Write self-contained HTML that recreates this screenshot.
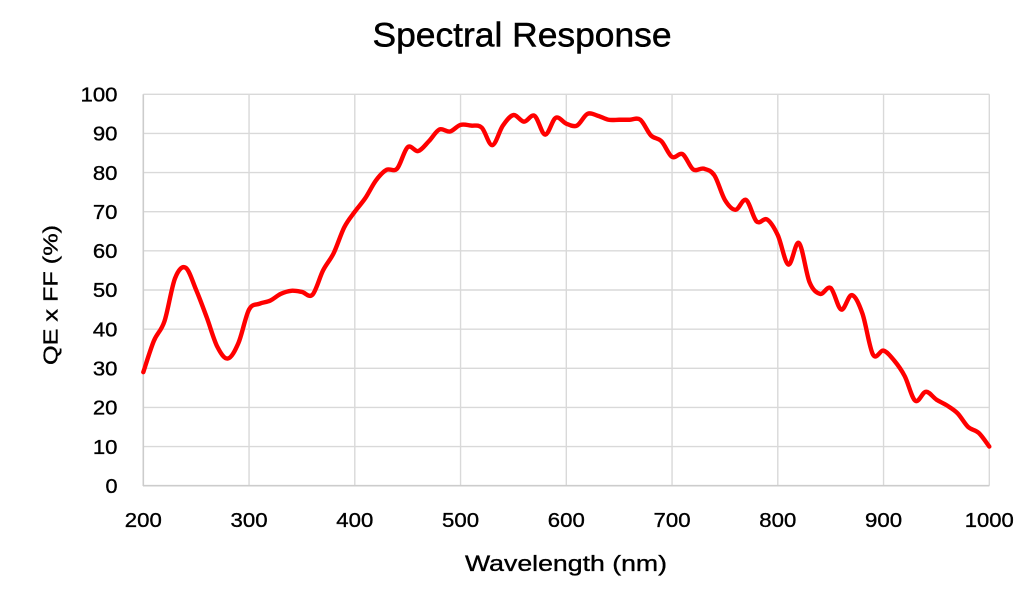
<!DOCTYPE html>
<html>
<head>
<meta charset="utf-8">
<style>
  html,body{margin:0;padding:0;background:#fff;}
  svg{display:block;}
  text{font-family:"Liberation Sans", Arial, sans-serif; fill:#000; stroke:#000; stroke-width:0.35px;}
</style>
</head>
<body>
<svg id="chart" width="1036" height="593" viewBox="0 0 1036 593" xmlns="http://www.w3.org/2000/svg">
  <rect width="1036" height="593" fill="#fff"/>
  <!-- title -->
  <text x="522" y="46.7" font-size="34.5" text-anchor="middle" textLength="299" lengthAdjust="spacingAndGlyphs" style="stroke-width:0.5px">Spectral Response</text>

  <!-- gridlines -->
  <g stroke="#d9d9d9" stroke-width="1.4" fill="none">
    <line x1="143.3" y1="94.3" x2="989.3" y2="94.3"/>
    <line x1="143.3" y1="133.44" x2="989.3" y2="133.44"/>
    <line x1="143.3" y1="172.58" x2="989.3" y2="172.58"/>
    <line x1="143.3" y1="211.72" x2="989.3" y2="211.72"/>
    <line x1="143.3" y1="250.86" x2="989.3" y2="250.86"/>
    <line x1="143.3" y1="290" x2="989.3" y2="290"/>
    <line x1="143.3" y1="329.14" x2="989.3" y2="329.14"/>
    <line x1="143.3" y1="368.28" x2="989.3" y2="368.28"/>
    <line x1="143.3" y1="407.42" x2="989.3" y2="407.42"/>
    <line x1="143.3" y1="446.56" x2="989.3" y2="446.56"/>
    <line x1="249.05" y1="94.3" x2="249.05" y2="485.7"/>
    <line x1="354.8" y1="94.3" x2="354.8" y2="485.7"/>
    <line x1="460.55" y1="94.3" x2="460.55" y2="485.7"/>
    <line x1="566.3" y1="94.3" x2="566.3" y2="485.7"/>
    <line x1="672.05" y1="94.3" x2="672.05" y2="485.7"/>
    <line x1="777.8" y1="94.3" x2="777.8" y2="485.7"/>
    <line x1="883.55" y1="94.3" x2="883.55" y2="485.7"/>
    <line x1="989.3" y1="94.3" x2="989.3" y2="485.7"/>
  </g>
  <!-- axes -->
  <g stroke="#cccccc" stroke-width="1.6" fill="none">
    <line x1="143.3" y1="94.3" x2="143.3" y2="486"/>
    <line x1="143" y1="485.7" x2="989.3" y2="485.7"/>
  </g>

  <!-- y tick labels -->
  <g font-size="20.5" text-anchor="end">
    <text x="117.5" y="101.5" textLength="37" lengthAdjust="spacingAndGlyphs">100</text>
    <text x="117.5" y="140.6" textLength="24.6" lengthAdjust="spacingAndGlyphs">90</text>
    <text x="117.5" y="179.8" textLength="24.6" lengthAdjust="spacingAndGlyphs">80</text>
    <text x="117.5" y="218.9" textLength="24.6" lengthAdjust="spacingAndGlyphs">70</text>
    <text x="117.5" y="258.1" textLength="24.6" lengthAdjust="spacingAndGlyphs">60</text>
    <text x="117.5" y="297.2" textLength="24.6" lengthAdjust="spacingAndGlyphs">50</text>
    <text x="117.5" y="336.3" textLength="24.6" lengthAdjust="spacingAndGlyphs">40</text>
    <text x="117.5" y="375.5" textLength="24.6" lengthAdjust="spacingAndGlyphs">30</text>
    <text x="117.5" y="414.6" textLength="24.6" lengthAdjust="spacingAndGlyphs">20</text>
    <text x="117.5" y="453.8" textLength="24.6" lengthAdjust="spacingAndGlyphs">10</text>
    <text x="117.5" y="492.9" textLength="12" lengthAdjust="spacingAndGlyphs">0</text>
  </g>

  <!-- x tick labels -->
  <g font-size="20.5" text-anchor="middle">
    <text x="143.3" y="527" textLength="37" lengthAdjust="spacingAndGlyphs">200</text>
    <text x="249.05" y="527" textLength="37" lengthAdjust="spacingAndGlyphs">300</text>
    <text x="354.8" y="527" textLength="37" lengthAdjust="spacingAndGlyphs">400</text>
    <text x="460.55" y="527" textLength="37" lengthAdjust="spacingAndGlyphs">500</text>
    <text x="566.3" y="527" textLength="37" lengthAdjust="spacingAndGlyphs">600</text>
    <text x="672.05" y="527" textLength="37" lengthAdjust="spacingAndGlyphs">700</text>
    <text x="777.8" y="527" textLength="37" lengthAdjust="spacingAndGlyphs">800</text>
    <text x="883.55" y="527" textLength="37" lengthAdjust="spacingAndGlyphs">900</text>
    <text x="989.3" y="527" textLength="49" lengthAdjust="spacingAndGlyphs">1000</text>
  </g>

  <!-- axis titles -->
  <text x="566" y="571" font-size="22" text-anchor="middle" textLength="202" lengthAdjust="spacingAndGlyphs">Wavelength (nm)</text>
  <text transform="translate(57.5,295) rotate(-90)" x="0" y="0" font-size="20.5" text-anchor="middle" textLength="140" lengthAdjust="spacingAndGlyphs">QE x FF (%)</text>

  <!-- series (data coords: x = nm-200, y = value) -->
  <g transform="translate(143.3,485.7) scale(1.0575,-3.914)">
    <polyline id="fallback" fill="none" stroke="#ff0000" stroke-width="4.4" vector-effect="non-scaling-stroke" stroke-linejoin="round" stroke-linecap="round"
      points="0,29 10,37 20,42 30,53 40,55.7 50,50 60,43 70,35.5 80,32.5 90,36.5 100,45 110,46.5 120,47.3 130,49 140,49.8 150,49.5 160,48.8 170,55 180,59.4 190,66 200,70 210,73.5 220,78 230,80.7 240,81 250,86.5 260,85.5 270,88 280,91 290,90.5 300,92.2 310,92 320,91.5 330,87 340,92 350,94.7 360,93 370,94.5 380,89.7 390,94 400,92.5 410,92 420,95 430,94.5 440,93.5 450,93.5 460,93.5 470,93.5 480,89.5 490,88 500,84 510,84.7 520,80.8 530,81 540,79.3 550,73 560,70.5 570,73 580,67.5 590,68 600,64 610,56.5 620,62 630,52 640,49 650,50.5 660,45 670,48.7 680,44 690,33.5 700,34.5 710,32 720,28 730,21.7 740,24 750,22 760,20.5 770,18.5 780,15 790,13.5 800,10"/>
    <path id="smooth" fill="none" stroke="#ff0000" stroke-width="4.4" vector-effect="non-scaling-stroke" stroke-linejoin="round" stroke-linecap="round" d=""/>
  </g>
</svg>
<script>
(function(){
  var fb = document.getElementById('fallback');
  var raw = fb.getAttribute('points').trim().split(/\s+/).map(function(s){var a=s.split(',');return [parseFloat(a[0]),parseFloat(a[1])];});
  var n = raw.length, d = 'M' + raw[0][0] + ',' + raw[0][1];
  for (var i=0;i<n-1;i++){
    var p0 = raw[Math.max(i-1,0)], p1 = raw[i], p2 = raw[i+1], p3 = raw[Math.min(i+2,n-1)];
    var c1x = p1[0] + (p2[0]-p0[0])/6, c1y = p1[1] + (p2[1]-p0[1])/6;
    var c2x = p2[0] - (p3[0]-p1[0])/6, c2y = p2[1] - (p3[1]-p1[1])/6;
    d += ' C' + c1x.toFixed(3)+','+c1y.toFixed(3)+' '+c2x.toFixed(3)+','+c2y.toFixed(3)+' '+p2[0]+','+p2[1];
  }
  document.getElementById('smooth').setAttribute('d', d);
  fb.parentNode.removeChild(fb);
})();
</script>
</body>
</html>
